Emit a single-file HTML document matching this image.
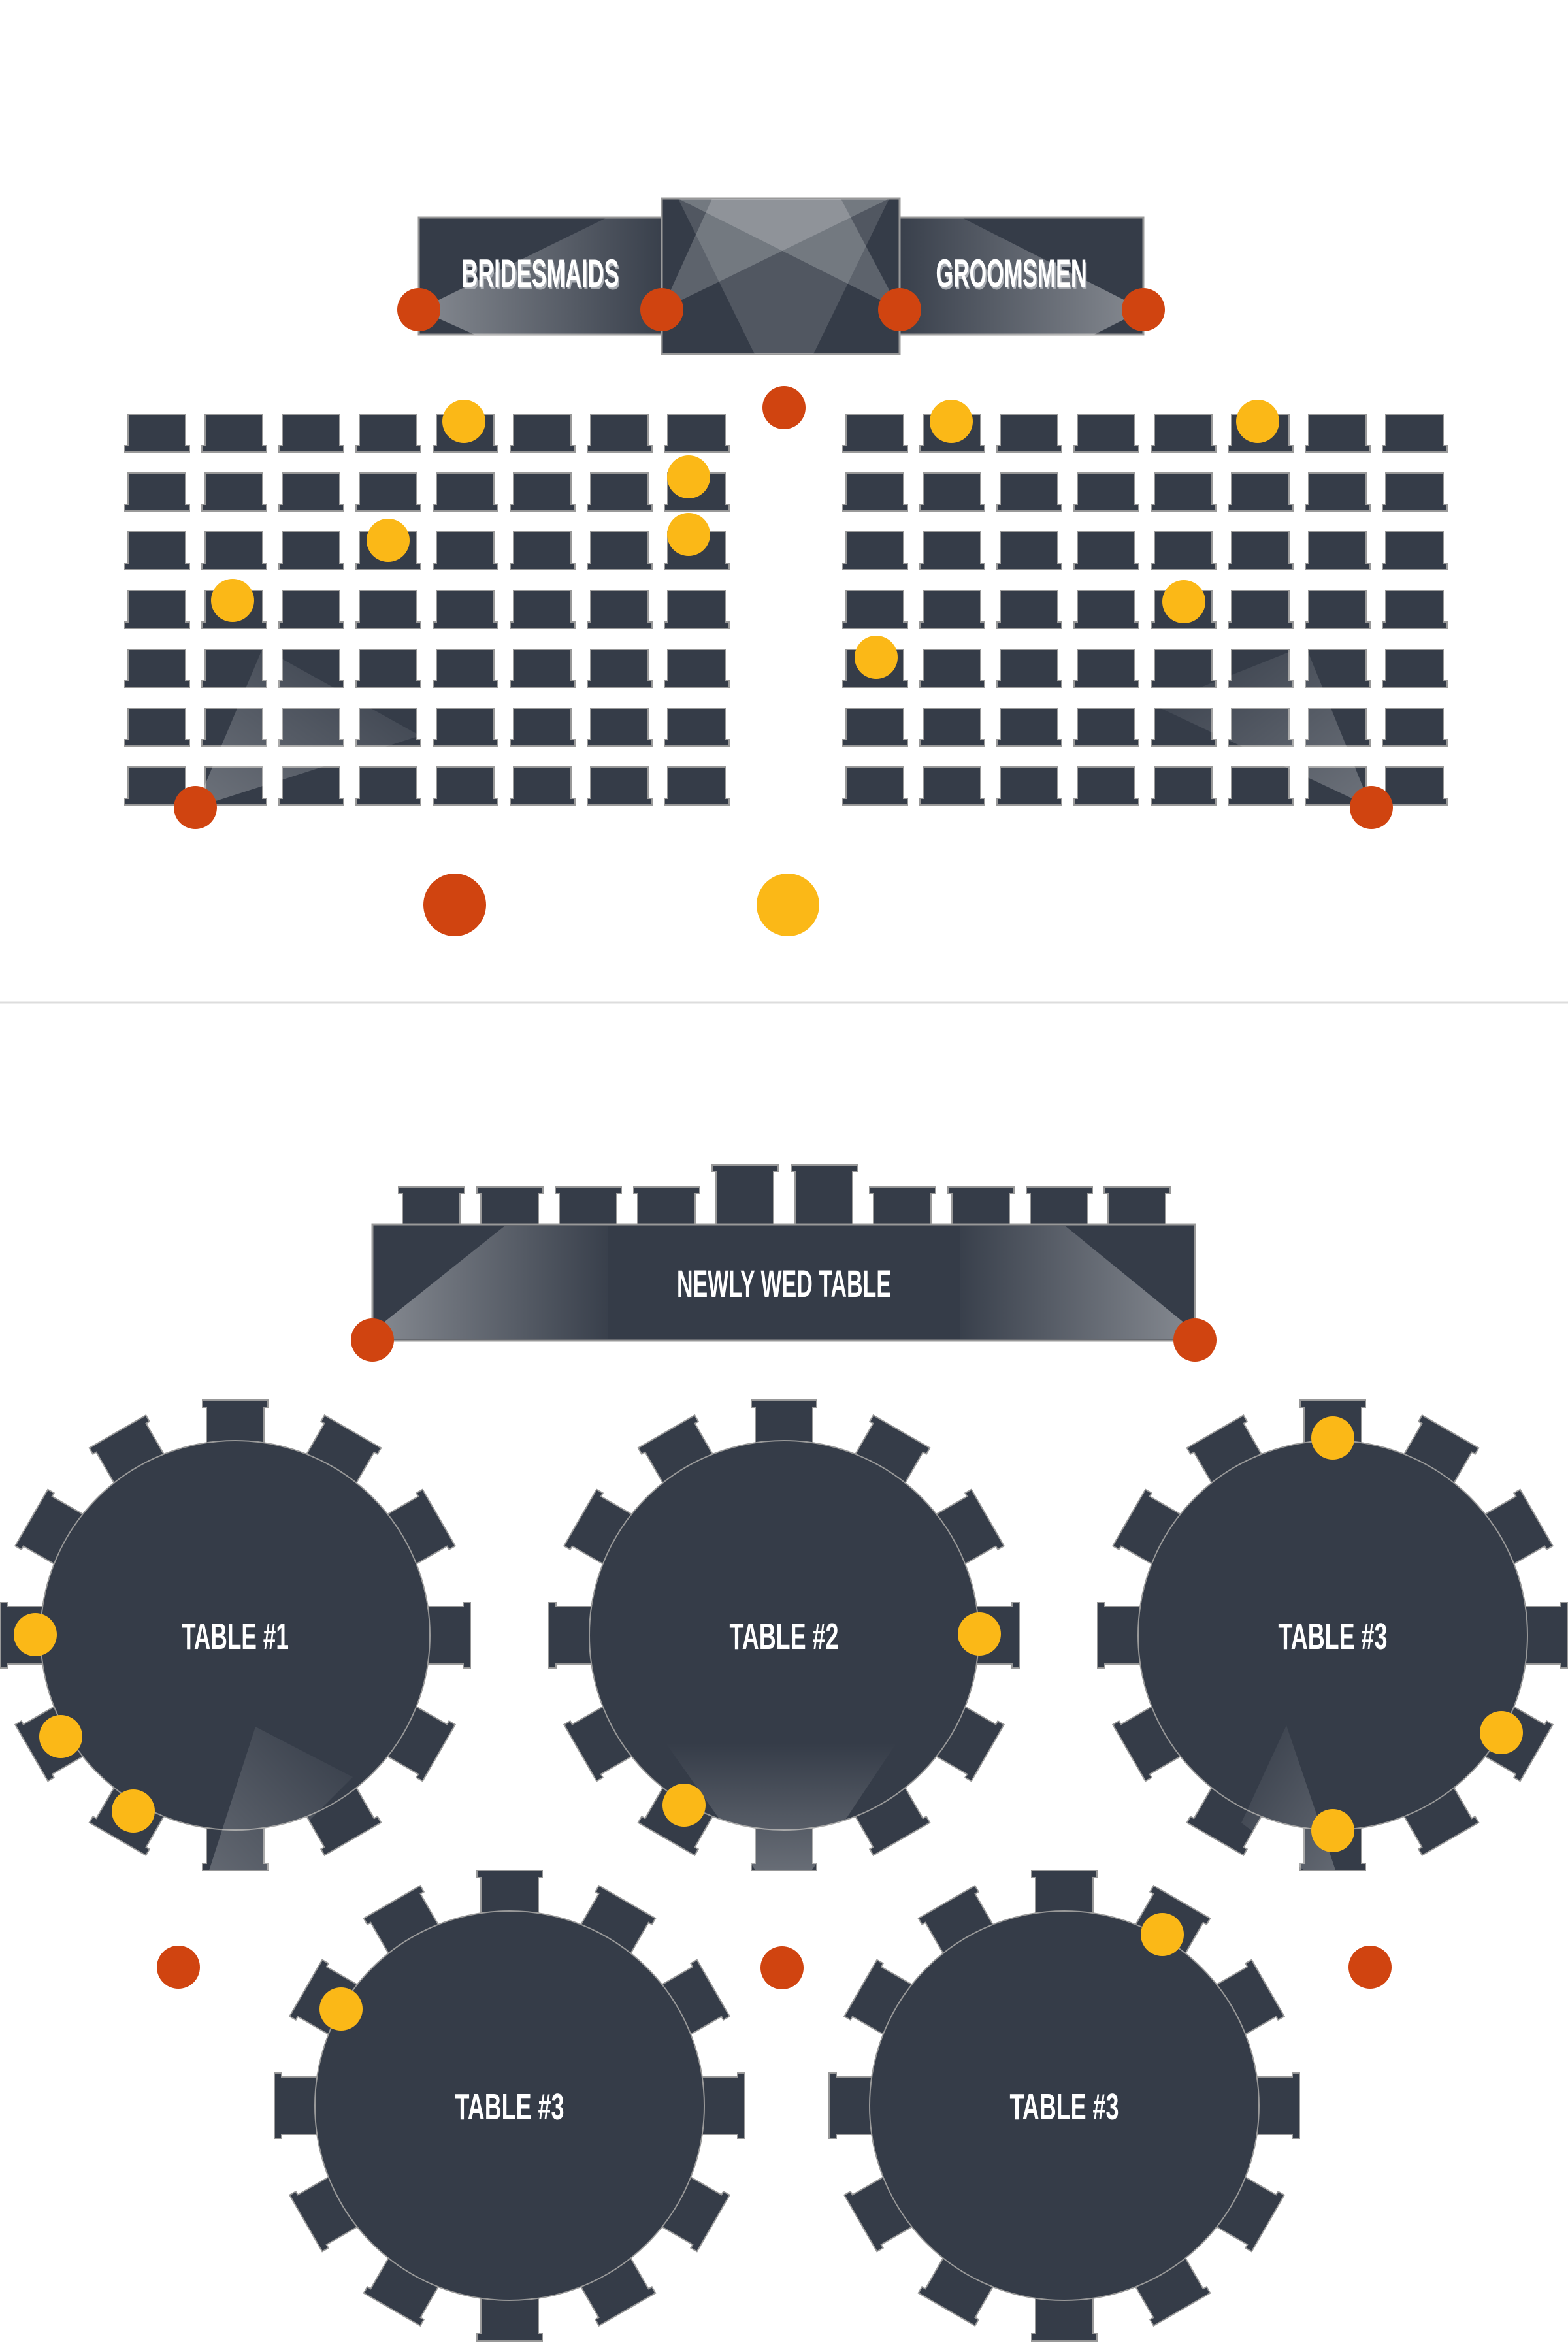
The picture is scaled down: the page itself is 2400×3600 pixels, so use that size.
<!DOCTYPE html>
<html><head><meta charset="utf-8"><style>
html,body{margin:0;padding:0;background:#fff;}
svg{display:block;}
.lbl{font-family:"Liberation Sans Narrow","Liberation Sans",sans-serif;font-weight:bold;fill:#fff;}
</style></head><body>
<svg width="2400" height="3600" viewBox="0 0 2400 3600" xmlns="http://www.w3.org/2000/svg">
<defs>
  <pattern id="seat" patternUnits="userSpaceOnUse" x="189" y="632" width="118" height="90">
    <path d="M7,50 V2 H95 V50 H101 V60 H2 V50 Z" fill="#353c48" stroke="#999" stroke-width="2"/>
  </pattern>
  <pattern id="seatR" patternUnits="userSpaceOnUse" x="1288" y="632" width="118" height="90">
    <path d="M7,50 V2 H95 V50 H101 V60 H2 V50 Z" fill="#353c48" stroke="#999" stroke-width="2"/>
  </pattern>
  <path id="rc" d="M-44,-239 V-349 H-50 V-360 H50 V-349 H44 V-239 Z" fill="#353c48" stroke="#999" stroke-width="2"/>
  <g id="ring">
    <use href="#rc"/><use href="#rc" transform="rotate(30)"/><use href="#rc" transform="rotate(60)"/>
    <use href="#rc" transform="rotate(90)"/><use href="#rc" transform="rotate(120)"/><use href="#rc" transform="rotate(150)"/>
    <use href="#rc" transform="rotate(180)"/><use href="#rc" transform="rotate(210)"/><use href="#rc" transform="rotate(240)"/>
    <use href="#rc" transform="rotate(270)"/><use href="#rc" transform="rotate(300)"/><use href="#rc" transform="rotate(330)"/>
    <circle r="298" fill="#353c48" stroke="#999" stroke-width="2"/>
  </g>
  <linearGradient id="gL" x1="0" x2="1" y1="0" y2="0">
    <stop offset="0" stop-color="#fff" stop-opacity="0.4"/><stop offset="1" stop-color="#fff" stop-opacity="0.02"/>
  </linearGradient>
  <linearGradient id="gR" x1="1" x2="0" y1="0" y2="0">
    <stop offset="0" stop-color="#fff" stop-opacity="0.4"/><stop offset="1" stop-color="#fff" stop-opacity="0.02"/>
  </linearGradient>
  <linearGradient id="gU" x1="0" x2="0" y1="1" y2="0">
    <stop offset="0" stop-color="#fff" stop-opacity="0.25"/><stop offset="1" stop-color="#fff" stop-opacity="0"/>
  </linearGradient>
  <linearGradient id="gBL" x1="0" x2="1" y1="1" y2="0">
    <stop offset="0" stop-color="#fff" stop-opacity="0.28"/><stop offset="1" stop-color="#fff" stop-opacity="0"/>
  </linearGradient>
  <linearGradient id="gBR" x1="1" x2="0" y1="1" y2="0">
    <stop offset="0" stop-color="#fff" stop-opacity="0.28"/><stop offset="1" stop-color="#fff" stop-opacity="0"/>
  </linearGradient>
</defs>

<!-- ===== Ceremony ===== -->
<rect x="641" y="333" width="372" height="179" fill="#353c48" stroke="#999" stroke-width="3"/>
<rect x="1377" y="333" width="373" height="179" fill="#353c48" stroke="#999" stroke-width="3"/>
<rect x="1013" y="304" width="364" height="238" fill="#353c48" stroke="#999" stroke-width="3"/>
<polygon points="641,474 929,333 1013,333 1013,512 726,512" fill="url(#gL)"/>
<polygon points="1750,474 1472,333 1377,333 1377,512 1675,512" fill="url(#gR)"/>
<polygon points="1013,474 1090,304 1361,304" fill="#fff" fill-opacity="0.2"/>
<polygon points="1377,474 1038,304 1287,304" fill="#fff" fill-opacity="0.2"/>
<polygon points="1038,304 1361,304 1245,542 1155,542" fill="#fff" fill-opacity="0.14"/>

<text class="lbl" x="829" y="443" font-size="60" text-anchor="middle" textLength="241" lengthAdjust="spacingAndGlyphs" style="fill:#a9adb3">BRIDESMAIDS</text>
<text class="lbl" x="827" y="439" font-size="60" text-anchor="middle" textLength="241" lengthAdjust="spacingAndGlyphs">BRIDESMAIDS</text>
<text class="lbl" x="1550" y="443" font-size="60" text-anchor="middle" textLength="231" lengthAdjust="spacingAndGlyphs" style="fill:#a9adb3">GROOMSMEN</text>
<text class="lbl" x="1548" y="439" font-size="60" text-anchor="middle" textLength="231" lengthAdjust="spacingAndGlyphs">GROOMSMEN</text>

<g fill="#d04410">
  <circle cx="641" cy="474" r="33"/><circle cx="1013" cy="474" r="33"/>
  <circle cx="1377" cy="474" r="33"/><circle cx="1750" cy="474" r="33"/>
  <circle cx="1200" cy="624" r="33"/>
</g>

<rect x="189" y="632" width="928" height="602" fill="url(#seat)"/>
<rect x="1288" y="632" width="928" height="602" fill="url(#seatR)"/>
<polygon points="299,1236 402,992 643,1126" fill="url(#gBL)"/>
<polygon points="2099,1236 1998,988 1768,1080" fill="url(#gBR)"/>

<g fill="#fbb817">
  <circle cx="710" cy="645" r="33"/><circle cx="1054" cy="730" r="33"/>
  <circle cx="594" cy="827" r="33"/><circle cx="1054" cy="818" r="33"/>
  <circle cx="356" cy="919" r="33"/>
  <circle cx="1456" cy="645" r="33"/><circle cx="1925" cy="645" r="33"/>
  <circle cx="1812" cy="921" r="33"/><circle cx="1341" cy="1006" r="33"/>
  <circle cx="1206" cy="1385" r="48"/>
</g>
<g fill="#d04410">
  <circle cx="299" cy="1236" r="33"/><circle cx="2099" cy="1236" r="33"/>
  <circle cx="696" cy="1385" r="48"/>
</g>

<line x1="0" y1="1534" x2="2400" y2="1534" stroke="#dddddd" stroke-width="3"/>

<!-- ===== Reception ===== -->
<g fill="#353c48" stroke="#999" stroke-width="2">
  <path d="M616,1874 V1827 H610 V1817 H711 V1827 H704 V1874 Z"/>
  <path d="M736,1874 V1827 H730 V1817 H831 V1827 H824 V1874 Z"/>
  <path d="M856,1874 V1827 H850 V1817 H951 V1827 H944 V1874 Z"/>
  <path d="M976,1874 V1827 H970 V1817 H1071 V1827 H1064 V1874 Z"/>
  <path d="M1096,1874 V1793 H1090 V1783 H1191 V1793 H1184 V1874 Z"/>
  <path d="M1217,1874 V1793 H1211 V1783 H1312 V1793 H1305 V1874 Z"/>
  <path d="M1337,1874 V1827 H1331 V1817 H1432 V1827 H1425 V1874 Z"/>
  <path d="M1457,1874 V1827 H1451 V1817 H1552 V1827 H1545 V1874 Z"/>
  <path d="M1577,1874 V1827 H1571 V1817 H1672 V1827 H1665 V1874 Z"/>
  <path d="M1696,1874 V1827 H1690 V1817 H1791 V1827 H1784 V1874 Z"/>
</g>
<rect x="570" y="1874" width="1259" height="178" fill="#353c48" stroke="#999" stroke-width="3"/>
<polygon points="580,2030 773,1876 930,1876 930,2050 572,2050" fill="url(#gL)"/>
<polygon points="1819,2030 1630,1876 1470,1876 1470,2050 1827,2050" fill="url(#gR)"/>
<text class="lbl" x="1200" y="1985" font-size="58" text-anchor="middle" textLength="328" lengthAdjust="spacingAndGlyphs">NEWLY WED TABLE</text>
<circle cx="570" cy="2051" r="33" fill="#d04410"/>
<circle cx="1829" cy="2051" r="33" fill="#d04410"/>

<use href="#ring" transform="translate(360,2503)"/>
<use href="#ring" transform="translate(1200,2503)"/>
<use href="#ring" transform="translate(2040,2503)"/>
<use href="#ring" transform="translate(780,3223)"/>
<use href="#ring" transform="translate(1629,3223)"/>

<polygon points="391,2643 320,2863 410,2863 470,2790 540,2720" fill="url(#gBL)" opacity="0.8"/>
<polygon points="1019,2668 1372,2668 1243,2862 1156,2862" fill="url(#gU)"/>
<polygon points="1969,2641 2044,2862 1995,2862 1900,2790" fill="url(#gBR)" opacity="0.8"/>

<text class="lbl" x="360" y="2524" font-size="57" text-anchor="middle" textLength="164" lengthAdjust="spacingAndGlyphs">TABLE #1</text>
<text class="lbl" x="1200" y="2524" font-size="57" text-anchor="middle" textLength="167" lengthAdjust="spacingAndGlyphs">TABLE #2</text>
<text class="lbl" x="2040" y="2524" font-size="57" text-anchor="middle" textLength="167" lengthAdjust="spacingAndGlyphs">TABLE #3</text>
<text class="lbl" x="780" y="3244" font-size="57" text-anchor="middle" textLength="167" lengthAdjust="spacingAndGlyphs">TABLE #3</text>
<text class="lbl" x="1629" y="3244" font-size="57" text-anchor="middle" textLength="167" lengthAdjust="spacingAndGlyphs">TABLE #3</text>

<g fill="#fbb817">
  <circle cx="54" cy="2502" r="33"/><circle cx="93" cy="2658" r="33"/><circle cx="204" cy="2772" r="33"/>
  <circle cx="1499" cy="2501" r="33"/><circle cx="1047" cy="2763" r="33"/>
  <circle cx="2040" cy="2201" r="33"/><circle cx="2298" cy="2652" r="33"/><circle cx="2040" cy="2802" r="33"/>
  <circle cx="522" cy="3075" r="33"/><circle cx="1779" cy="2961" r="33"/>
</g>
<g fill="#d04410">
  <circle cx="273" cy="3011" r="33"/><circle cx="1197" cy="3012" r="33"/><circle cx="2097" cy="3011" r="33"/>
</g>
</svg>
</body></html>
